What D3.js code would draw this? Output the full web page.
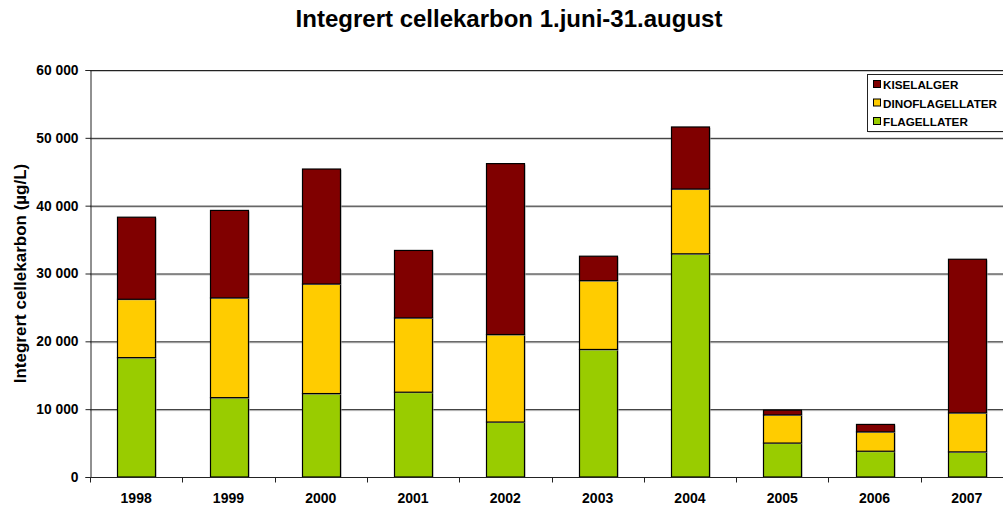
<!DOCTYPE html>
<html>
<head>
<meta charset="utf-8">
<script src="https://cdn.jsdelivr.net/npm/d3@7"></script>
<style>
  html, body { margin: 0; padding: 0; background: #fff; }
  svg { display: block; font-family: "Liberation Sans", Arial, sans-serif; }
</style>
</head>
<body>
<svg id="chart" width="1003" height="506"></svg>
<script>
// Years on the x axis
const years = ["1998", "1999", "2000", "2001", "2002", "2003", "2004", "2005", "2006", "2007"];

// Integrated cell carbon per group (µg/L), stacked bottom to top
const flagellater      = [17600, 11700, 12300, 12500,  8100, 18800, 32900, 5000, 3800, 3700];
const dinoflagellater  = [ 8600, 14700, 16150, 10950, 12900, 10150,  9550, 4150, 2850, 5750];
const kiselalger       = [12100, 12900, 16950,  9950, 25200,  3600,  9150,  700, 1100, 22650];

const seriesNames  = ["FLAGELLATER", "DINOFLAGELLATER", "KISELALGER"];
const seriesColors = ["#99cc00", "#ffcc00", "#800000"];

const yTicks = [0, 10000, 20000, 30000, 40000, 50000, 60000];

const svg = d3.select("#chart");
const margin = { left: 90, right: -10, top: 70, bottom: 29 };
const W = 1003, H = 506;

const rows = years.map((y, i) => ({
  year: y,
  FLAGELLATER: flagellater[i],
  DINOFLAGELLATER: dinoflagellater[i],
  KISELALGER: kiselalger[i]
}));
const stacked = d3.stack().keys(seriesNames)(rows);

const x = d3.scaleBand()
  .domain(years)
  .range([margin.left, W - margin.right])
  .paddingInner(0.59)
  .paddingOuter(0.295);

const y = d3.scaleLinear()
  .domain([0, 60000])
  .range([H - margin.bottom, margin.top]);

const fmt = v => d3.format(",")(v).replace(/,/g, " ");

// Gridlines with a soft shadow
const grid = svg.append("g");
yTicks.filter(t => t > 0).forEach(t => {
  grid.append("line")
    .attr("x1", margin.left).attr("x2", W)
    .attr("y1", y(t) + 1.5).attr("y2", y(t) + 1.5)
    .attr("stroke", "#c8c8c8").attr("stroke-width", 1);
  grid.append("line")
    .attr("x1", margin.left).attr("x2", W)
    .attr("y1", y(t) + 0.5).attr("y2", y(t) + 0.5)
    .attr("stroke", "#222").attr("stroke-width", 1);
});

// Stacked bars
const layers = svg.append("g").selectAll("g")
  .data(stacked)
  .join("g")
  .attr("fill", (d, i) => seriesColors[i]);

// shadow behind each bar segment
layers.selectAll("rect.shadow")
  .data(d => d.map(v => ({ v, year: v.data.year })))
  .join("rect")
  .attr("class", "shadow")
  .attr("x", d => Math.round(x(d.year)) + 1.5)
  .attr("y", d => y(d.v[1]) + 1)
  .attr("width", Math.round(x.bandwidth()))
  .attr("height", d => y(d.v[0]) - y(d.v[1]))
  .attr("fill", "#b0b0b0");

layers.selectAll("rect.seg")
  .data(d => d.map(v => ({ v, year: v.data.year })))
  .join("rect")
  .attr("class", "seg")
  .attr("x", d => Math.round(x(d.year)) + 0.5)
  .attr("y", d => y(d.v[1]))
  .attr("width", Math.round(x.bandwidth()))
  .attr("height", d => y(d.v[0]) - y(d.v[1]))
  .attr("stroke", "#000")
  .attr("stroke-width", 1.2);

// Y axis
const yAxis = svg.append("g")
  .attr("transform", `translate(${margin.left + 0.5},0)`)
  .call(d3.axisLeft(y).tickValues(yTicks).tickFormat(fmt).tickSize(5).tickPadding(7));
yAxis.select(".domain").attr("stroke", "#222");
yAxis.selectAll(".tick line").attr("stroke", "#222");
yAxis.selectAll("text")
  .attr("font-size", "13.8px").attr("font-weight", "bold").attr("fill", "#000")
  .attr("font-family", "Liberation Sans, Arial, sans-serif");

// X axis with ticks at category boundaries
const xAxisG = svg.append("g")
  .attr("transform", `translate(0,${y(0) + 0.5})`);
xAxisG.append("line")
  .attr("x1", margin.left).attr("x2", W)
  .attr("stroke", "#222");
const step = x.step();
d3.range(years.length + 1).forEach(i => {
  const px = Math.round(margin.left + i * step) + 0.5;
  xAxisG.append("line")
    .attr("x1", px).attr("x2", px).attr("y1", 0).attr("y2", 5)
    .attr("stroke", "#222");
});
xAxisG.selectAll("text.year")
  .data(years)
  .join("text")
  .attr("class", "year")
  .attr("x", d => x(d) + x.bandwidth() / 2)
  .attr("y", 25)
  .attr("text-anchor", "middle")
  .attr("font-size", "14px").attr("font-weight", "bold")
  .text(d => d);

// Title
svg.append("text")
  .attr("x", 509).attr("y", 27)
  .attr("text-anchor", "middle")
  .attr("font-size", "24px").attr("font-weight", "bold")
  .text("Integrert cellekarbon 1.juni-31.august");

// Y axis title
svg.append("text")
  .attr("transform", `translate(26,${(y(0) + y(60000)) / 2}) rotate(-90)`)
  .attr("text-anchor", "middle")
  .attr("font-size", "17px").attr("font-weight", "bold")
  .text("Integrert cellekarbon (µg/L)");

// Legend (top series first)
const legend = svg.append("g").attr("transform", "translate(867,74)");
legend.append("rect")
  .attr("x", 1.5).attr("y", 1.5).attr("width", 150).attr("height", 57)
  .attr("fill", "#c8c8c8");
legend.append("rect")
  .attr("x", 0.5).attr("y", 0.5).attr("width", 150).attr("height", 57)
  .attr("fill", "#fff").attr("stroke", "#222");
const order = [2, 1, 0];
order.forEach((si, k) => {
  const gy = 11 + k * 18.5;
  legend.append("rect")
    .attr("x", 6.5).attr("y", gy - 4.5).attr("width", 7).attr("height", 7)
    .attr("fill", seriesColors[si]).attr("stroke", "#000").attr("stroke-width", 1);
  legend.append("text")
    .attr("x", 16).attr("y", gy + 4)
    .attr("font-size", "11.7px").attr("font-weight", "bold")
    .text(seriesNames[si]);
});
</script>
</body>
</html>
